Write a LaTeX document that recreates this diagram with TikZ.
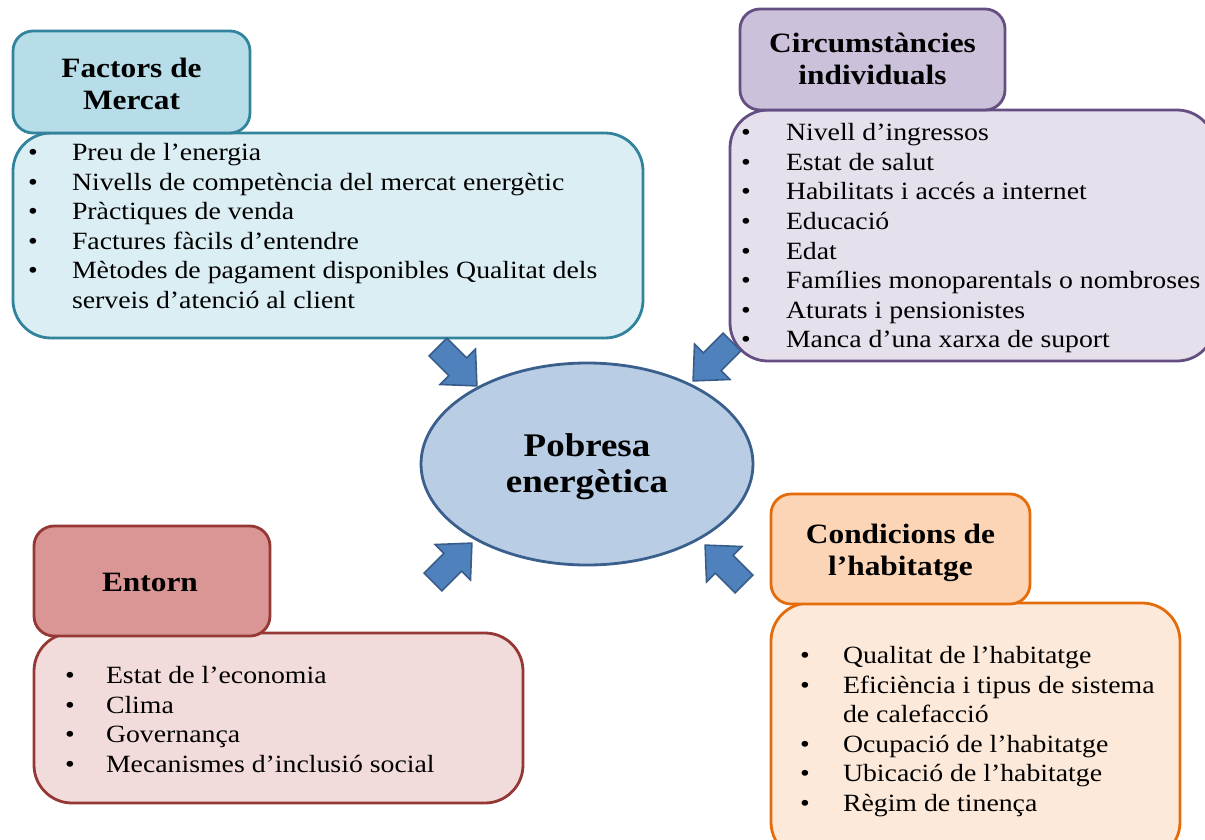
\documentclass[tikz,border=0pt]{standalone}
\usepackage{fontspec}
\setmainfont{Liberation Serif}[FakeStretch=1.12]
\usetikzlibrary{shapes.geometric}
\definecolor{fmBorder}{HTML}{31849B}
\definecolor{fmHead}{HTML}{B7DDE8}
\definecolor{fmBody}{HTML}{DBEEF3}
\definecolor{ciBorder}{HTML}{654F82}
\definecolor{ciHead}{HTML}{CCC1DA}
\definecolor{ciBody}{HTML}{E5E0EC}
\definecolor{enBorder}{HTML}{953735}
\definecolor{enHead}{HTML}{D99694}
\definecolor{enBody}{HTML}{F2DCDB}
\definecolor{coBorder}{HTML}{E46C0A}
\definecolor{coHead}{HTML}{FBD5B5}
\definecolor{coBody}{HTML}{FDE9D9}
\definecolor{elFill}{HTML}{B9CDE5}
\definecolor{elBorder}{HTML}{3A5F8C}
\definecolor{arFill}{HTML}{4F81BD}
\definecolor{arBorder}{HTML}{385D8A}
\begin{document}
\begin{tikzpicture}[x=1pt,y=-1pt,
  every node/.style={inner sep=0pt,outer sep=0pt},
  panel/.style={draw,line width=2.8pt,rectangle},
  headbox/.style={panel,rounded corners=20pt},
  bodybox/.style={panel,rounded corners=38pt},
  title/.style={anchor=base,font=\fontsize{28}{32}\selectfont\bfseries},
  item/.style={anchor=base west,font=\fontsize{24.8}{29}\selectfont},
  bul/.style={anchor=base,font=\fontsize{24.8}{29}\selectfont},
  blockarrow/.style={fill=arFill,draw=arBorder,line width=1.6pt,line join=miter}]
\useasboundingbox (0,0) rectangle (1205,839);

% ---------- Factors de Mercat ----------
\node[bodybox,draw=fmBorder,fill=fmBody,minimum width=630pt,minimum height=205pt] (fmbody) at (328,235.5) {};
\node[headbox,draw=fmBorder,fill=fmHead,minimum width=237pt,minimum height=102pt] (fmhead) at (131.5,82) {};
\node[title] (fmt1) at (131.5,77) {Factors de};
\node[title] (fmt2) at (131.5,109) {Mercat};
\foreach \yy/\tx [count=\i] in {160/Preu de l’energia,
  190/Nivells de competència del mercat energètic,
  219.5/Pràctiques de venda,
  249/Factures fàcils d’entendre,
  278.5/Mètodes de pagament disponibles Qualitat dels}{
  \node[bul] (fmb\i) at (33,\yy) {\textbullet};
  \node[item] (fmi\i) at (72,\yy) {\tx};
}
\node[item] (fmi6) at (72,308) {serveis d’atenció al client};

% ---------- Circumstancies individuals ----------
\node[bodybox,draw=ciBorder,fill=ciBody,minimum width=485pt,minimum height=251pt] (cibody) at (972.5,235.5) {};
\node[headbox,draw=ciBorder,fill=ciHead,minimum width=265pt,minimum height=101pt] (cihead) at (872.5,59.5) {};
\node[title] (cit1) at (872.5,52) {Circumstàncies};
\node[title] (cit2) at (872.5,84) {individuals};
\foreach \yy/\tx [count=\i] in {140/Nivell d’ingressos,
  170/Estat de salut,
  199.5/Habilitats i accés a internet,
  229/Educació,
  259/Edat,
  288.5/Famílies monoparentals o nombroses,
  318/Aturats i pensionistes,
  347.5/Manca d’una xarxa de suport}{
  \node[bul] (cib\i) at (746,\yy) {\textbullet};
  \node[item] (cii\i) at (786,\yy) {\tx};
}

% ---------- Entorn ----------
\node[bodybox,draw=enBorder,fill=enBody,minimum width=489pt,minimum height=170pt] (enbody) at (278.5,718) {};
\node[headbox,draw=enBorder,fill=enHead,minimum width=236pt,minimum height=110pt] (enhead) at (152,581) {};
\node[title] (ent1) at (150,591) {Entorn};
\foreach \yy/\tx [count=\i] in {683/Estat de l’economia,
  713/Clima,
  742/Governança,
  772/Mecanismes d’inclusió social}{
  \node[bul] (enb\i) at (70,\yy) {\textbullet};
  \node[item] (eni\i) at (106,\yy) {\tx};
}

% ---------- Condicions de l'habitatge ----------
\node[bodybox,draw=coBorder,fill=coBody,minimum width=409pt,minimum height=257pt] (cobody) at (975.5,731.5) {};
\node[headbox,draw=coBorder,fill=coHead,minimum width=259pt,minimum height=110pt] (cohead) at (900.5,549) {};
\node[title] (cot1) at (900.5,543) {Condicions de};
\node[title] (cot2) at (900.5,575) {l’habitatge};
\foreach \yy/\tx [count=\i] in {663/Qualitat de l’habitatge,
  693/Eficiència i tipus de sistema,
  752/Ocupació de l’habitatge,
  781.5/Ubicació de l’habitatge,
  811/Règim de tinença}{
  \node[bul] (cob\i) at (805,\yy) {\textbullet};
  \node[item] (coi\i) at (843,\yy) {\tx};
}
\node[item] (coi6) at (843,722.5) {de calefacció};

% ---------- Centre ----------
\node[ellipse,draw=elBorder,fill=elFill,line width=2.8pt,minimum width=332pt,minimum height=202pt] (centre) at (587,464) {};
\node[title,font=\fontsize{33}{36}\selectfont\bfseries] (ct1) at (587,456) {Pobresa};
\node[title,font=\fontsize{33}{36}\selectfont\bfseries] (ct2) at (587,492) {energètica};

% ---------- Block arrows ----------
\coordinate (atl) at (438,347);
\coordinate (atr) at (732,342);
\coordinate (abl) at (433,582);
\coordinate (abr) at (744,584);
\foreach \c/\ang in {atl/-45,atr/-135,abl/45,abr/135}{
  \begin{scope}[shift={(\c)},rotate=\ang]
    \draw[blockarrow] (0,12.5) -- (28,12.5) -- (28,25) -- (55,0) -- (28,-25) -- (28,-12.5) -- (0,-12.5) -- cycle;
  \end{scope}
}
\end{tikzpicture}
\end{document}
